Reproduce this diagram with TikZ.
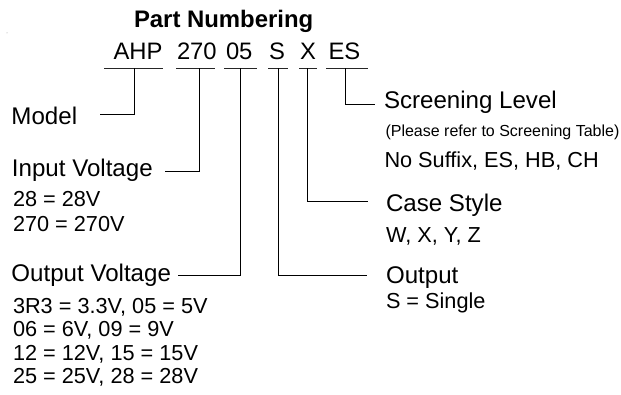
\documentclass[tikz,border=0pt]{standalone}
\usepackage{fontspec}
\setmainfont{Liberation Sans}
\tikzset{
  txt/.style={anchor=base west, inner sep=0pt, outer sep=0pt, text=black},
  big/.style={txt, font=\fontsize{24.1}{28}\selectfont},
  part/.style={txt, font=\fontsize{23.8}{28}\selectfont},
  bigb/.style={txt, font=\fontsize{23.9}{28}\selectfont\bfseries},
  mid/.style={txt, font=\fontsize{21.7}{25}\selectfont},
  small/.style={txt, font=\fontsize{16}{19}\selectfont},
  uline/.style={line width=0.9pt, draw=black!85},
  conn/.style={line width=0.9pt, draw=black}
}
\begin{document}
\begin{tikzpicture}[x=1pt, y=-1pt]
\useasboundingbox (0,0) rectangle (621,395);
\fill[black!40] (7,33) circle (0.5);
% title and part number
\node[bigb] (title) at (134,27.7) {Part Numbering};
\node[part] (pAHP) at (113.5,60) {AHP};
\node[part] (p270) at (177,60) {270};
\node[part] (p05) at (226,60) {05};
\node[part] (pS) at (269,60) {S};
\node[part] (pX) at (300,60) {X};
\node[part] (pES) at (328.5,60) {ES};
% underline coordinates
\coordinate (uAHPa) at (104,68.3); \coordinate (uAHPb) at (163,68.3);
\coordinate (u270a) at (176,68.3); \coordinate (u270b) at (215,68.3);
\coordinate (u05a) at (224,68.3);  \coordinate (u05b) at (257,68.3);
\coordinate (uSa) at (268,68.3);   \coordinate (uSb) at (288,68.3);
\coordinate (uXa) at (299,68.3);   \coordinate (uXb) at (317,68.3);
\coordinate (uESa) at (326,68.3);  \coordinate (uESb) at (368,68.3);
\draw[uline] (uAHPa) -- (uAHPb);
\draw[uline] (u270a) -- (u270b);
\draw[uline] (u05a) -- (u05b);
\draw[uline] (uSa) -- (uSb);
\draw[uline] (uXa) -- (uXb);
\draw[uline] (uESa) -- (uESb);
% tap points and line ends
\coordinate (tAHP) at (134,68.3); \coordinate (eAHP) at (100,114);
\coordinate (t270) at (199,68.3); \coordinate (e270) at (165,171.7);
\coordinate (t05) at (240.7,68.3); \coordinate (e05) at (178,275);
\coordinate (tS) at (278.3,68.3); \coordinate (eS) at (367,275);
\coordinate (tX) at (307.3,68.3); \coordinate (eX) at (368,201.7);
\coordinate (tES) at (345,68.3); \coordinate (eES) at (375,104);
\draw[conn] (tAHP) |- (eAHP);
\draw[conn] (t270) |- (e270);
\draw[conn] (t05) |- (e05);
\draw[conn] (tS) |- (eS);
\draw[conn] (tX) |- (eX);
\draw[conn] (tES) |- (eES);
% left labels
\node[big] (model) at (11.5,124.3) {Model};
\node[big] (inv) at (12,176.7) {Input Voltage};
\node[mid] (inv1) at (13,206.7) {28 = 28V};
\node[mid] (inv2) at (13,231.7) {270 = 270V};
\node[big] (outv) at (11.5,281.7) {Output Voltage};
\node[mid] (outv1) at (13,313.3) {3R3 = 3.3V, 05 = 5V};
\node[mid] (outv2) at (13,336.7) {06 = 6V, 09 = 9V};
\node[mid] (outv3) at (13,360) {12 = 12V, 15 = 15V};
\node[mid] (outv4) at (13,383.3) {25 = 25V, 28 = 28V};
% right labels
\node[big] (scr) at (384,108.3) {Screening Level};
\node[small] (scr1) at (385.5,136.7) {(Please refer to Screening Table)};
\node[mid] (scr2) at (384.5,167.5) {No Suffix, ES, HB, CH};
\node[big] (case) at (386,211.7) {Case Style};
\node[mid] (case1) at (386,242.7) {W, X, Y, Z};
\node[big] (out) at (386,284) {Output};
\node[mid] (out1) at (386,308.3) {S = Single};
\end{tikzpicture}
\end{document}
